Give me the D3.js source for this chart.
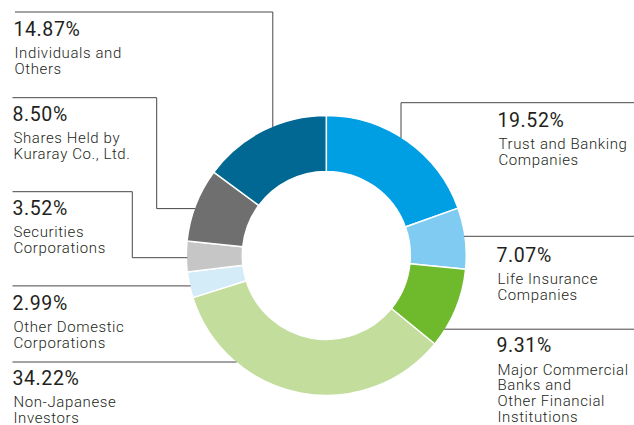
<!DOCTYPE html>
<html><head><meta charset="utf-8">
<script src="https://cdn.jsdelivr.net/npm/d3@7"></script>
<style>html,body{margin:0;padding:0;background:#fff;}svg{display:block;}</style>
</head><body>
<script>
// ---- data ----
const categories = ["Trust and Banking Companies","Life Insurance Companies","Major Commercial Banks and Other Financial Institutions","Non-Japanese Investors","Other Domestic Corporations","Securities Corporations","Shares Held by Kuraray Co., Ltd.","Individuals and Others"];
const values = [19.52, 7.07, 9.31, 34.22, 2.99, 3.52, 8.50, 14.87];
const labelLines = [
  ["Trust and Banking","Companies"],
  ["Life Insurance","Companies"],
  ["Major Commercial","Banks and","Other Financial","Institutions"],
  ["Non-Japanese","Investors"],
  ["Other Domestic","Corporations"],
  ["Securities","Corporations"],
  ["Shares Held by","Kuraray Co., Ltd."],
  ["Individuals and","Others"]
];
const colors = ["#009fe3","#80cbf2","#6fb92c","#c3dd9c","#d4ebf8","#c6c6c6","#6f6f6f","#006893"];

// ---- layout ----
const W = 634, H = 425;
const cx = 326.3, cy = 255.4, R = 140, r = 84;
const svg = d3.select("body").append("svg").attr("width", W).attr("height", H);

const color = d3.scaleOrdinal().domain(categories).range(colors);
const pie = d3.pie().sort(null).value(d => d.v);
const data = categories.map((c, i) => ({c, v: values[i], lines: labelLines[i]}));
const arcs = pie(data);
const arc = d3.arc().innerRadius(r).outerRadius(R);

const g = svg.append("g").attr("transform", `translate(${cx},${cy})`);
g.selectAll("path").data(arcs).enter().append("path")
  .attr("d", arc).attr("fill", d => color(d.data.c))
  .attr("stroke", "#fff").attr("stroke-width", 1.5).attr("stroke-linejoin", "bevel");

const layout = [
  {tx: 497.5, ty: 126.7, type: "v", hy: 102.7, x0: 634, ex: 401, side: 1},
  {tx: 496.5, ty: 262, type: "h", hy: 236.3, x0: 634, side: 1},
  {tx: 496.5, ty: 352.3, type: "h", hy: 329.2, x0: 634, side: 1},
  {tx: 12.5, ty: 385, type: "h", hy: 362, x0: 12.5, side: -1},
  {tx: 12.5, ty: 310, type: "h", hy: 285.9, x0: 12.5, side: -1},
  {tx: 12.5, ty: 215, type: "z", hy: 191.7, x0: 12.5, ex: 132.3, y2: 257.7, side: -1},
  {tx: 12.5, ty: 120.7, type: "z", hy: 97.7, x0: 12.5, ex: 156.7, y2: 208.6, side: -1},
  {tx: 13.5, ty: 36, type: "v", hy: 12, x0: 15, ex: 272.8, side: -1}
];

function circleX(y, side) { return cx + side * Math.sqrt(R * R - (y - cy) * (y - cy)); }
function circleYTop(x) { return cy - Math.sqrt(R * R - (x - cx) * (x - cx)); }

const lineG = svg.append("g").attr("fill", "none").attr("stroke", "#4a4546").attr("stroke-width", 1);
layout.forEach((L, i) => {
  let pts;
  if (L.type === "v") pts = [[L.x0, L.hy], [L.ex, L.hy], [L.ex, circleYTop(L.ex) + 1]];
  else if (L.type === "h") pts = [[L.x0, L.hy], [circleX(L.hy, L.side) - L.side * 1, L.hy]];
  else pts = [[L.x0, L.hy], [L.ex, L.hy], [L.ex, L.y2], [circleX(L.y2, L.side) - L.side * 1, L.y2]];
  lineG.append("path").attr("d", d3.line()(pts));
});

const fmt = d3.format(".2f");
const textG = svg.append("g").attr("fill", "#231f20").attr("font-family", "Roboto, 'Liberation Sans', sans-serif");
arcs.forEach((a, i) => {
  const L = layout[i];
  textG.append("text").attr("x", L.tx).attr("y", L.ty)
    .attr("font-size", 19.5).attr("font-weight", 400).attr("letter-spacing", 0.6)
    .text(fmt(a.data.v) + "%");
  const t = textG.append("text")
    .attr("font-size", 15).attr("font-weight", 300).attr("letter-spacing", 0.6);
  a.data.lines.forEach((ln, k) => {
    t.append("tspan").attr("x", L.tx + 1).attr("y", L.ty + 22.3 + k * 15.7).text(ln);
  });
});
</script>
</body></html>
